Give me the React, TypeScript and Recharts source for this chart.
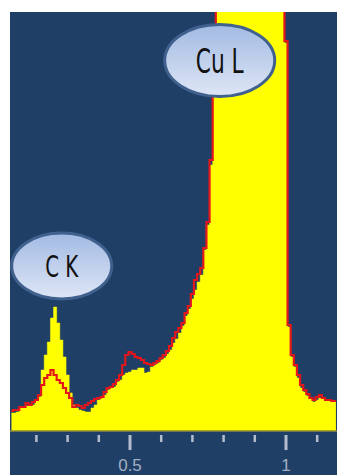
import React from 'react';
import { ComposedChart, Area, Line, XAxis, YAxis, ReferenceDot } from 'recharts';

// Energy channels (keV)
const ENERGY = [
  0.12, 0.13, 0.14, 0.15, 0.16, 0.17, 0.18, 0.19, 0.2, 0.21,
  0.22, 0.23, 0.24, 0.25, 0.26, 0.27, 0.28, 0.29, 0.3, 0.31,
  0.32, 0.33, 0.34, 0.35, 0.36, 0.37, 0.38, 0.39, 0.4, 0.41,
  0.42, 0.43, 0.44, 0.45, 0.46, 0.47, 0.48, 0.49, 0.5, 0.51,
  0.52, 0.53, 0.54, 0.55, 0.56, 0.57, 0.58, 0.59, 0.6, 0.61,
  0.62, 0.63, 0.64, 0.65, 0.66, 0.67, 0.68, 0.69, 0.7, 0.71,
  0.72, 0.73, 0.74, 0.75, 0.76, 0.77, 0.78, 0.79, 0.8, 0.81,
  0.82, 0.83, 0.84, 0.85, 0.86, 0.87, 0.88, 0.89, 0.9, 0.91,
  0.92, 0.93, 0.94, 0.95, 0.96, 0.97, 0.98, 0.99, 1.0, 1.01,
  1.02, 1.03, 1.04, 1.05, 1.06, 1.07, 1.08, 1.09, 1.1, 1.11,
  1.12, 1.13, 1.14, 1.15, 1.16,
];

// Filled (yellow) spectrum counts
const SPECTRUM_FILLED = [
  18, 18, 19, 23, 23, 25, 26, 26, 31, 34,
  61, 76, 89, 113, 124, 108, 91, 74, 56, 38,
  26, 23, 21, 20, 19, 19, 23, 26, 31, 33,
  36, 41, 44, 44, 49, 51, 56, 58, 59, 61,
  61, 63, 63, 58, 59, 64, 66, 68, 71, 73,
  77, 81, 88, 92, 98, 105, 115, 122, 132, 141,
  149, 156, 181, 206, 266, 386, 560, 700, 850, 1000,
  1150, 1300, 1450, 1600, 1750, 1850, 1950, 2000, 2050, 2050,
  2000, 1900, 1750, 1500, 1200, 900, 650, 480, 388, 104,
  74, 64, 53, 43, 39, 35, 32, 29, 31, 33,
  32, 30, 30, 29, 29,
];

// Overlay (red) spectrum counts
const SPECTRUM_LINE = [
  20, 21, 21, 24, 24, 28, 26, 29, 31, 36,
  46, 53, 56, 61, 56, 51, 48, 43, 38, 33,
  24, 26, 25, 23, 26, 28, 30, 32, 33, 34,
  39, 43, 44, 47, 51, 56, 66, 76, 79, 77,
  74, 73, 71, 68, 67, 66, 68, 70, 73, 76,
  80, 85, 93, 99, 103, 108, 118, 125, 137, 151,
  157, 163, 183, 209, 271, 391, 570, 720, 870, 1020,
  1170, 1320, 1470, 1620, 1760, 1860, 1950, 2010, 2040, 2040,
  1990, 1890, 1740, 1490, 1190, 890, 640, 470, 390, 106,
  76, 66, 56, 46, 41, 37, 33, 31, 34, 36,
  33, 31, 31, 30, 30,
];

const X_TICKS = [0.2, 0.3, 0.4, 0.5, 0.6, 0.7, 0.8, 0.9, 1, 1.1];
const X_LABELED = [0.5, 1];
const X_DOMAIN = [0.11538, 1.16346];
const Y_DOMAIN = [0, 419];

const PEAK_NAMES = ['C K', 'Cu L'];
const PEAK_ENERGY = [0.2811, 0.7875];
const PEAK_COUNTS = [165, 370.5];

const data = ENERGY.map((e, i) => ({ e, filled: SPECTRUM_FILLED[i], line: SPECTRUM_LINE[i] }));

const BG = '#1f3f67';

const AxisTick = (props: any) => {
  const { x, y, payload } = props;
  const major = X_LABELED.includes(payload.value);
  return (
    <g>
      <line x1={x} x2={x} y1={y + 4} y2={y + (major ? 19 : 11)} stroke="#b3bdcd" strokeWidth={major ? 3 : 2.5} />
      {major ? (
        <text x={x} y={y + 40} textAnchor="middle" fontSize={17} fill="#a3b0c3" fontFamily="'Liberation Sans', 'Noto Sans', sans-serif">
          {payload.value === 1 ? '1' : String(payload.value)}
        </text>
      ) : null}
    </g>
  );
};

const makeBubble = (label: string, idx: number) => (props: any) => {
  const { cx, cy } = props;
  const big = idx === 1;
  const rx = big ? 55 : 50;
  const ry = big ? 36 : 33;
  const fs = big ? 34 : 30;
  const tl = big ? 48 : 33;
  const gid = `bubbleGrad${idx}`;
  return (
    <g>
      <defs>
        <linearGradient id={gid} x1="0" y1="0" x2="0" y2="1">
          <stop offset="0%" stopColor="#a2bae3" />
          <stop offset="100%" stopColor="#dee6f5" />
        </linearGradient>
      </defs>
      <ellipse cx={cx} cy={cy} rx={rx} ry={ry} fill={`url(#${gid})`} stroke="#40618e" strokeWidth={3} />
      <text
        x={cx}
        y={cy + fs * 0.36}
        textAnchor="middle"
        fontSize={fs}
        fill="#111"
        textLength={tl}
        lengthAdjust="spacingAndGlyphs"
        fontFamily="'Liberation Sans Narrow', 'DejaVu Sans Condensed', 'Liberation Sans', sans-serif"
      >
        {label}
      </text>
    </g>
  );
};

export default function App() {
  return (
    <div style={{ position: 'absolute', left: 0, top: 0, width: 337, height: 475, background: '#ffffff', overflow: 'hidden' }}>
      <div style={{ position: 'absolute', left: 10, top: 12, width: 327, height: 463, background: BG }} />
      <div style={{ position: 'absolute', left: 0, top: 0 }}>
        <ComposedChart width={337} height={475} data={data} margin={{ top: 12, right: 0, left: 10, bottom: 0 }}>
          <XAxis
            dataKey="e"
            type="number"
            domain={X_DOMAIN}
            allowDataOverflow
            ticks={X_TICKS}
            interval={0}
            height={44}
            tickSize={0}
            tickMargin={0}
            tickLine={false}
            axisLine={{ stroke: '#8e8c34', strokeWidth: 1.5 }}
            tick={<AxisTick />}
          />
          <YAxis hide domain={Y_DOMAIN} allowDataOverflow type="number" />
          <Area
            dataKey="filled"
            type="step"
            fill="#ffff00"
            fillOpacity={1}
            stroke="#ffff00"
            strokeWidth={0.5}
            isAnimationActive={false}
            dot={false}
            activeDot={false}
          />
          <Line
            dataKey="line"
            type="step"
            stroke="#e3161c"
            strokeWidth={2.2}
            dot={false}
            activeDot={false}
            isAnimationActive={false}
          />
          {PEAK_NAMES.map((name, i) => (
            <ReferenceDot
              key={name}
              x={PEAK_ENERGY[i]}
              y={PEAK_COUNTS[i]}
              r={1}
              ifOverflow="visible"
              shape={makeBubble(name, i)}
            />
          ))}
        </ComposedChart>
      </div>
    </div>
  );
}
